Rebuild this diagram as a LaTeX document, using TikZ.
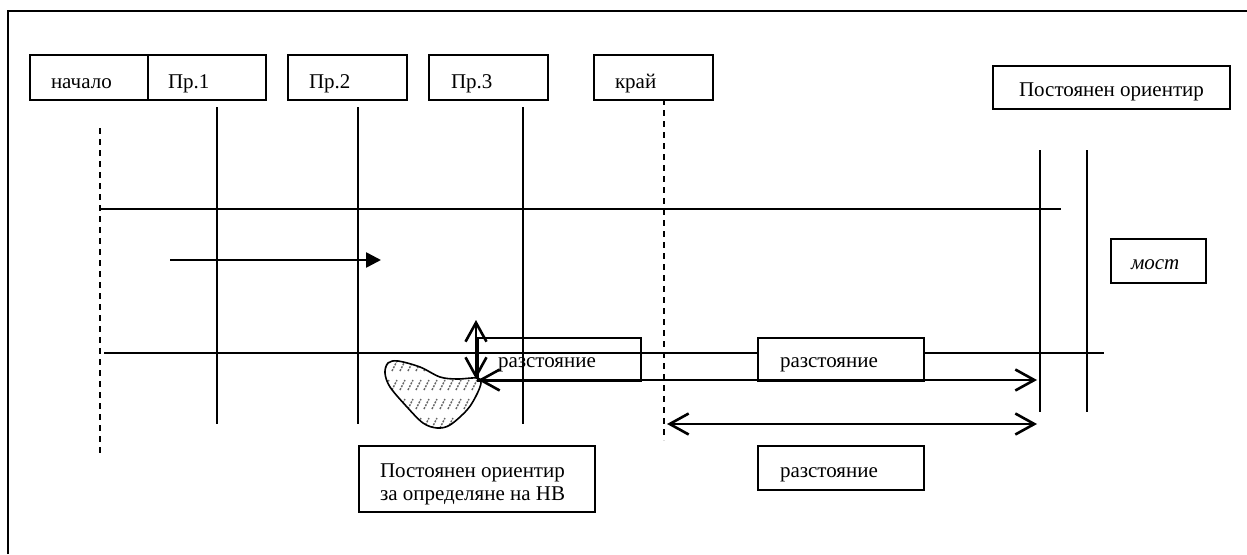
\documentclass[tikz,border=0pt]{standalone}
\usepackage{fontspec}
\setmainfont{Liberation Serif}
\usetikzlibrary{arrows.meta}
\begin{document}
\begin{tikzpicture}[x=1pt,y=-1pt,
  grid/.style={line width=1.6pt},
  dsh/.style={line width=1.6pt, dash pattern=on 6pt off 5pt},
  box/.style={draw, line width=2pt, anchor=north west, inner ysep=0pt, fill=white,
              font=\fontsize{21}{23}\selectfont},
  dimarrow/.style={line width=2.6pt,
     {Straight Barb[length=19pt,width=21pt]}-{Straight Barb[length=19pt,width=21pt]}},
  dirarrow/.style={line width=2.6pt, -{Triangle[length=15pt,width=15pt]}},
  hatch/.style={black!60, line width=1.4pt, dash pattern=on 2pt off 1.2pt}
 ]
\useasboundingbox (0,0) rectangle (1247,554);
% frame
\draw[line width=2pt] (8,554) -- (8,11) -- (1247,11);

% vertical lines
\draw[dsh] (100,128) -- (100,457);
\draw[grid] (217,107) -- (217,424);
\draw[grid] (358,107) -- (358,424);
\draw[grid] (523,107) -- (523,424);
\draw[dsh] (664,99) -- (664,440);
\draw[grid] (1040,150) -- (1040,412);
\draw[grid] (1087,150) -- (1087,412);
% horizontal lines
\draw[grid] (100,209) -- (1061,209);
\draw[grid] (104,353) -- (1104,353);

% direction arrow
\coordinate (dirA) at (170,260);
\coordinate (dirB) at (381,260);
\draw[dirarrow] (dirA) -- (dirB);

% blob (hatched landmark)
\def\blob{plot[smooth cycle, tension=0.55] coordinates {(388,363) (398,361) (420,367) (440,377) (457,379) (477,378) (481,383) (476,396) (467,410) (450,425) (437,428) (423,423) (407,407) (390,387) (385,373)}}
\begin{scope}
\clip \blob;
\foreach \yy in {366,385,404,423} \foreach \xx in {376,384,...,492}
  \draw[hatch] (\xx,\yy+5) -- (\xx+5,\yy-5);
\end{scope}
\draw[line width=1.6pt] \blob;

% boxes
\node[box, inner xsep=21pt, text height=33pt, text depth=12pt] (nachalo) at (29,54) {\makebox[76pt][l]{начало}};
\node[box, inner xsep=20pt, text height=33pt, text depth=12pt] (pr1) at (147,54) {\makebox[78pt][l]{Пр.1}};
\node[box, inner xsep=21pt, text height=33pt, text depth=12pt] (pr2) at (287,54) {\makebox[77pt][l]{Пр.2}};
\node[box, inner xsep=22pt, text height=33pt, text depth=12pt] (pr3) at (428,54) {\makebox[75pt][l]{Пр.3}};
\node[box, inner xsep=21pt, text height=33pt, text depth=12pt] (kraj) at (593,54) {\makebox[77pt][l]{край}};
\node[box, inner xsep=26pt, text height=30pt, text depth=13pt] (orient) at (992,65) {\makebox[185pt][l]{Постоянен ориентир}};
\node[box, inner xsep=20pt, text height=30pt, text depth=14pt] (most) at (1110,238) {\makebox[55pt][l]{\itshape мост}};
\node[box, fill=none, inner xsep=20pt, text height=29pt, text depth=14pt] (dist1) at (477,337) {\makebox[123pt][l]{разстояние}};
\node[box, inner xsep=22pt, text height=29pt, text depth=14pt] (dist2) at (757,337) {\makebox[122pt][l]{разстояние}};
\node[box, inner xsep=22pt, text height=31pt, text depth=13pt] (dist3) at (757,445) {\makebox[122pt][l]{разстояние}};
\node[box, inner xsep=21pt, text height=31pt, text depth=35pt] (orientHB) at (358,445)
  {\makebox[194pt][l]{\begin{tabular}[t]{@{}l@{}}Постоянен ориентир\\за определяне на НВ\end{tabular}}};

% dimension arrows
\coordinate (vTop) at (476,320);
\coordinate (vBot) at (476,379);
\coordinate (hL) at (478,380);
\coordinate (hR) at (1037,380);
\coordinate (lL) at (667,424);
\coordinate (lR) at (1037,424);
\draw[dimarrow] (vTop) -- (vBot);
\draw[dimarrow] (hL) -- (hR);
\draw[dimarrow] (lL) -- (lR);
\end{tikzpicture}
\end{document}
